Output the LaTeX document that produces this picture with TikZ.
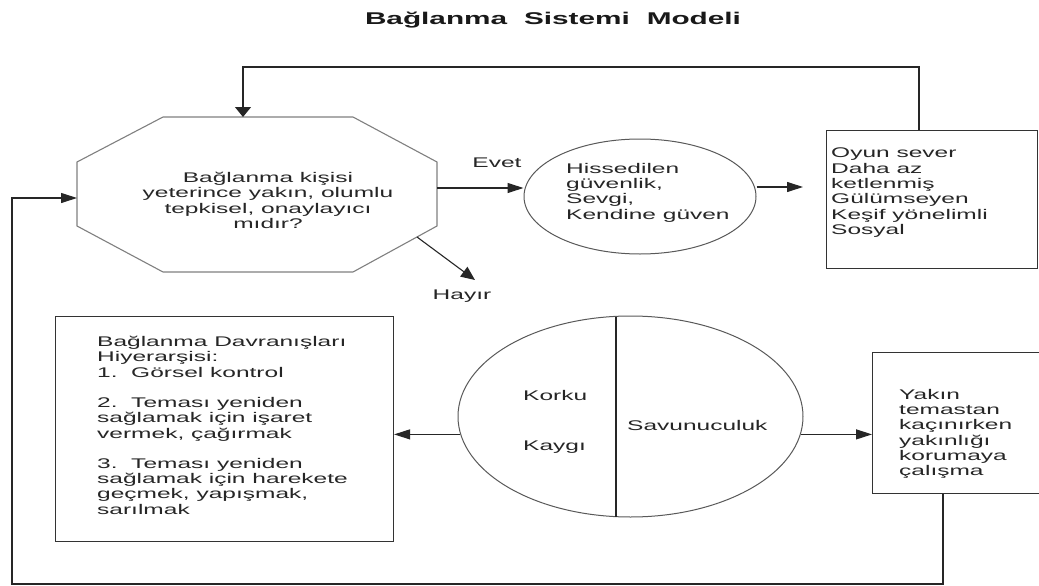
\documentclass[tikz,border=0pt]{standalone}
\usepackage{fontspec}
\setmainfont{Liberation Sans}[FakeStretch=1.75]
\usetikzlibrary{arrows.meta,shapes.geometric}
\begin{document}
\begin{tikzpicture}[x=1pt,y=-1pt,
  ln/.style={draw=black!85,line width=1.1pt},
  arrh/.style={ln,-{Triangle[length=16pt,width=10pt]}},
  arrv/.style={ln,-{Triangle[length=10pt,width=16pt]}},
  arrd/.style={ln,-{Triangle[length=14pt,width=12pt]}},
  txt/.style={font=\fontsize{14}{15.3}\selectfont,inner sep=0pt,text=black!85,align=left},
  boxst/.style={draw=black!80,line width=1.1pt,inner sep=0pt,anchor=north west},
  ell/.style={ellipse,draw=black!65,line width=1pt,inner sep=0pt}]
\useasboundingbox (0,0) rectangle (1039,586);
\clip (0,0) rectangle (1039,586);
\fill[white] (0,0) rectangle (1039,586);

% title
\node[font=\fontsize{17}{20}\selectfont\bfseries,inner sep=0pt,anchor=base,text=black!90] (title) at (553,25) {\makebox[376pt][s]{Bağlanma Sistemi Modeli}};

% octagon
\draw[draw=black!50,line width=1.1pt] (163,117) -- (353,117) -- (437,162) -- (437,226) -- (353,272) -- (163,272) -- (77,226) -- (77,162) -- cycle;
\coordinate (octT) at (243,117);
\coordinate (octL) at (77,198);
\coordinate (octR) at (437,188);
\coordinate (octBR) at (417,237);
\node[txt,align=center,anchor=north] (octtext) at (268,172) {Bağlanma kişisi\\yeterince yakın, olumlu\\tepkisel, onaylayıcı\\mıdır?};

% ellipse 1
\node[ell,minimum width=232pt,minimum height=115pt] (e1) at (640,196.5) {};
\node[txt,anchor=north west] (e1text) at (566,163) {Hissedilen\\güvenlik,\\Sevgi,\\Kendine güven};

% box 1
\node[boxst,minimum width=211pt,minimum height=138pt] (b1) at (826,130) {};
\node[txt,anchor=north west] (b1text) at (831,148) {Oyun sever\\Daha az\\ketlenmiş\\Gülümseyen\\Keşif yönelimli\\Sosyal};

% labels
\node[txt,anchor=base] (evet) at (497,167) {Evet};
\node[txt,anchor=base] (hayir) at (462,299) {Hayır};

% left box
\node[boxst,minimum width=338pt,minimum height=225pt] (lb) at (55,316) {};
\node[txt,anchor=north west] (lbtext) at (97,336) {Bağlanma Davranışları\\Hiyerarşisi:\\1.~~Görsel kontrol\\[15pt]2.~~Teması yeniden\\sağlamak için işaret\\vermek, çağırmak\\[15pt]3.~~Teması yeniden\\sağlamak için harekete\\geçmek, yapışmak,\\sarılmak};

% ellipse 2
\node[ell,minimum width=345pt,minimum height=201pt] (e2) at (630.5,416.5) {};
\draw[ln] (616,316.5) -- (616,516.5);
\node[txt,anchor=base west] (korku) at (523,400) {Korku};
\node[txt,anchor=base west] (kaygi) at (523,450) {Kaygı};
\node[txt,anchor=base west] (savun) at (627,430) {Savunuculuk};

% box 2
\node[boxst,minimum width=180pt,minimum height=141pt] (b2) at (872,352) {};
\node[txt,anchor=north west] (b2text) at (899,389) {Yakın\\temastan\\kaçınırken\\yakınlığı\\korumaya\\çalışma};

% connectors
\coordinate (fbTR) at (919,67);
\draw[arrv] (fbTR |- b1.north) -- (fbTR) -| (octT);
\coordinate (b1tip) at (803,187);
\draw[arrh] (octR) -- (octR -| e1.west);
\draw[arrh] (e1.east |- b1tip) -- (b1tip);
\coordinate (hayirtip) at (475,280);
\draw[arrd] (octBR) -- (hayirtip);
\draw[arrh] (e2.186) -- (e2.186 -| lb.east);
\draw[arrh] (e2.-6) -- (e2.-6 -| b2.west);
\coordinate (fbBR) at (943,584);
\coordinate (fbBL) at (12,584);
\draw[arrh] (fbBR |- b2.south) -- (fbBR) -- (fbBL) |- (octL);
\end{tikzpicture}
\end{document}
